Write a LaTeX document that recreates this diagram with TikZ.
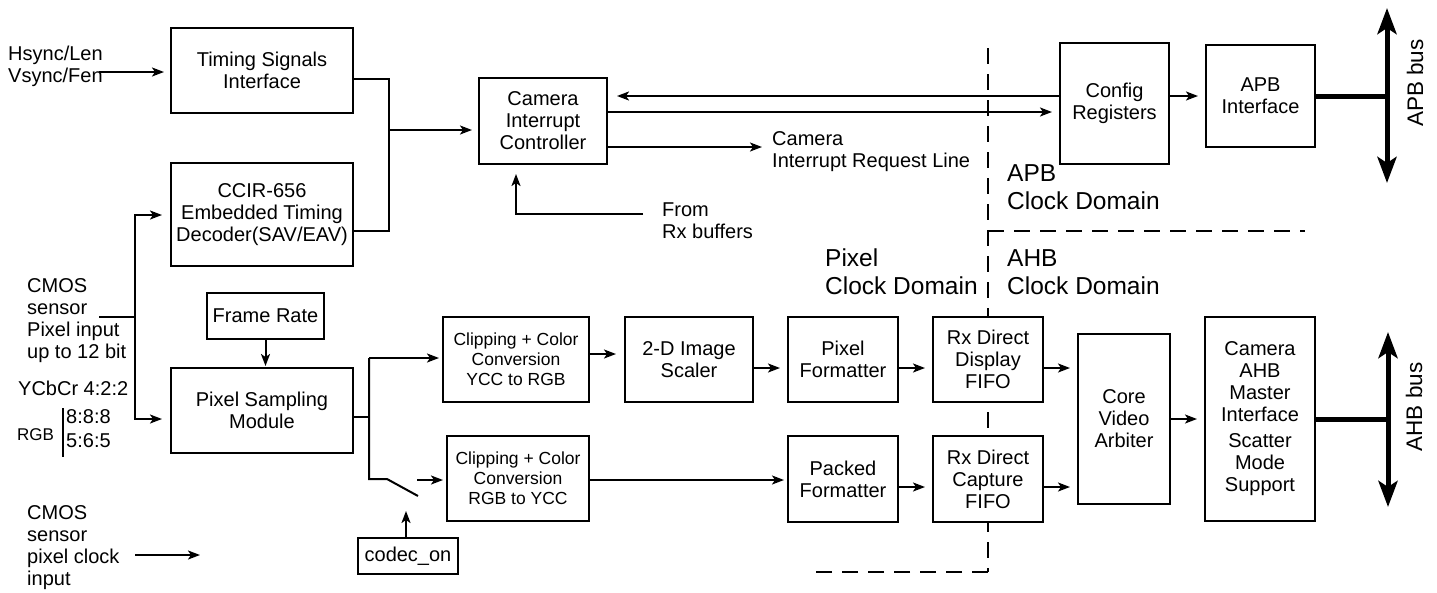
\documentclass[tikz,border=0pt]{standalone}
\usepackage{fontspec}
\setmainfont{Liberation Sans}
\usetikzlibrary{arrows.meta}
\newcommand\fsbox{\fontsize{20}{22}\selectfont}
\newcommand\fsclip{\fontsize{17.5}{20}\selectfont}
\newcommand\fsdom{\fontsize{24.5}{28}\selectfont}
\newcommand\fsbus{\fontsize{22.5}{26}\selectfont}
\newcommand\fsrgb{\fontsize{17}{20}\selectfont}
\begin{document}
\begin{tikzpicture}[x=1pt,y=-1pt,
 box/.style={draw,line width=2pt,fill=white,align=center,inner sep=0pt,font=\fsbox},
 lbl/.style={align=left,inner sep=0pt,anchor=west,font=\fsbox},
 conn/.style={line width=2pt},
 arr/.style={conn,-{Stealth[length=12pt,width=9pt,inset=3pt]}},
 thickbus/.style={line width=5pt},
 busarr/.style={line width=5pt,{Stealth[length=26pt,width=19pt,inset=6pt]}-{Stealth[length=26pt,width=19pt,inset=6pt]}},
 dom/.style={line width=2pt,dash pattern=on 16pt off 10pt}]
\useasboundingbox (0,0) rectangle (1437,592);

% clock domain borders
\coordinate (dvT) at (988,48);
\coordinate (dvB) at (988,572);
\coordinate (dhA) at (988,231);
\coordinate (dhB) at (1305,231);
\coordinate (dbL) at (807,572);
\draw[dom] (dvT) -- (dvB);
\draw[dom] (dhA) -- (dhB);
\draw[dom] (dvB) -- (dbL);

% boxes
\node[box,minimum width=182pt,minimum height=85pt] (tsi) at (262,70.5) {Timing Signals\\Interface};
\node[box,minimum width=182pt,minimum height=103pt] (ccir) at (262,214.5) {CCIR-656\\Embedded Timing\\Decoder(SAV/EAV)};
\node[box,minimum width=128pt,minimum height=86pt] (cic) at (543,121) {Camera\\Interrupt\\Controller};
\node[box,minimum width=109pt,minimum height=121pt] (cfg) at (1114.5,103.5) {Config\\Registers};
\node[box,minimum width=109pt,minimum height=102pt] (apbi) at (1260.5,96) {APB\\Interface};
\node[box,minimum width=117pt,minimum height=46pt] (fr) at (265.5,316) {Frame Rate};
\node[box,minimum width=182pt,minimum height=85pt] (psm) at (262,410.5) {Pixel Sampling\\Module};
\node[box,font=\fsclip,minimum width=146pt,minimum height=85pt] (cly) at (516,359.5) {Clipping + Color\\Conversion\\YCC to RGB};
\node[box,font=\fsclip,minimum width=142pt,minimum height=85pt] (clr) at (518,478.5) {Clipping + Color\\Conversion\\RGB to YCC};
\node[box,minimum width=128pt,minimum height=85pt] (scl) at (689,359.5) {2-D Image\\Scaler};
\node[box,minimum width=110pt,minimum height=85pt] (pxf) at (843,359.5) {Pixel\\Formatter};
\node[box,minimum width=110pt,minimum height=85pt] (dff) at (988,359.5) {Rx Direct\\Display\\FIFO};
\node[box,minimum width=110pt,minimum height=86pt] (pkf) at (843,479) {Packed\\Formatter};
\node[box,minimum width=110pt,minimum height=86pt] (cff) at (988,479) {Rx Direct\\Capture\\FIFO};
\node[box,minimum width=92pt,minimum height=170pt] (arb) at (1124,419) {Core\\Video\\Arbiter};
\node[box,minimum width=110pt,minimum height=204pt] (ahb) at (1260,419) {Camera\\AHB\\Master\\Interface\\[4pt]Scatter\\Mode\\Support};
\node[box,minimum width=100pt,minimum height=36pt] (codec) at (408,556) {codec\_on};

% labels
\node[lbl] (hsl) at (8,66.5) {Hsync/Len\\Vsync/Fen};
\node[lbl] (irqt) at (772,152) {Camera\\Interrupt Request Line};
\node[lbl] (rxt) at (662,220.5) {From\\Rx buffers};
\node[lbl,font=\fsdom] (pcd) at (825,272) {Pixel\\Clock Domain};
\node[lbl,font=\fsdom] (acd) at (1007,272) {AHB\\Clock Domain};
\node[lbl,font=\fsdom] (bcd) at (1007,187.5) {APB\\Clock Domain};
\node[lbl] (cmi) at (27,321) {CMOS\\sensor\\Pixel input\\up to 12 bit};
\node[lbl] (ycc) at (18,388) {YCbCr 4:2:2};
\node[lbl,font=\fsrgb] (rgb) at (17,435) {RGB};
\node[lbl] (fmt) at (66,429) {8:8:8\\[2pt]5:6:5};
\node[lbl] (pck) at (27,548) {CMOS\\sensor\\pixel clock\\input};
\node[rotate=90,font=\fsbus,inner sep=0pt] (apbl) at (1415,83) {APB bus};
\node[rotate=90,font=\fsbus,inner sep=0pt] (ahbl) at (1414,407) {AHB bus};
\draw[line width=1.5pt] (63,408) -- (63,457);

% upper connectors
\coordinate (hsin) at (99,72);
\draw[arr,shorten >=6pt] (hsin) -- (tsi.west |- hsin);
\coordinate (jA) at (389,79);
\coordinate (jB) at (389,231);
\coordinate (jC) at (389,130);
\draw[conn] (tsi.east |- jA) -- (jA) -- (jB) -- (ccir.east |- jB);
\draw[arr,shorten >=6pt] (jC) -- (cic.west |- jC);
\coordinate (yA) at (0,96);
\coordinate (yB) at (0,112);
\draw[arr,shorten >=9pt] (cfg.west |- yA) -- (cic.east |- yA);
\draw[arr,shorten >=7pt] (cic.east |- yB) -- (cfg.west |- yB);
\coordinate (irq) at (762,147);
\draw[arr] (cic.east |- irq) -- (irq);
\coordinate (rxA) at (643,214);
\coordinate (rxB) at (516,214);
\draw[arr,shorten >=9pt] (rxA) -- (rxB) -- (rxB |- cic.south);
\draw[arr,shorten >=7pt] (cfg.east |- yA) -- (apbi.west |- yA);
\coordinate (apbbus) at (1387,96);
\coordinate (apbt) at (1387,8);
\coordinate (apbb) at (1387,183);
\draw[thickbus] (apbi.east |- apbbus) -- (apbbus);
\draw[busarr] (apbb) -- (apbt);

% lower connectors
\draw[arr,shorten >=1pt] (fr.south) -- (fr.south |- psm.north);
\coordinate (ci) at (99,317);
\coordinate (vA) at (135,317);
\coordinate (vT) at (135,215);
\coordinate (vB) at (135,419);
\draw[conn] (ci) -- (vA);
\draw[arr,shorten >=8pt] (vA) -- (vT) -- (ccir.west |- vT);
\draw[arr,shorten >=8pt] (vA) -- (vB) -- (psm.west |- vB);
\coordinate (pcA) at (135,555);
\coordinate (pcB) at (200,555);
\draw[arr] (pcA) -- (pcB);

\coordinate (sA) at (369,417);
\coordinate (sT) at (369,358);
\coordinate (sB) at (369,479);
\coordinate (sw1) at (387,479);
\coordinate (sw2) at (418,496);
\coordinate (sr) at (417,480);
\draw[conn] (psm.east |- sA) -- (sA);
\draw[arr,shorten >=3pt] (sT) -- (cly.west |- sT);
\draw[conn] (sT) -- (sB) -- (sw1) -- (sw2);
\draw[arr,shorten >=3pt] (sr) -- (clr.west |- sr);
\coordinate (cod) at (406,511);
\draw[arr] (cod |- codec.north) -- (cod);

\coordinate (r1) at (0,354);
\coordinate (r2) at (0,368);
\coordinate (r3) at (0,480);
\coordinate (r4) at (0,487);
\coordinate (r5) at (0,419);
\draw[arr,shorten >=8pt] (cly.east |- r1) -- (scl.west |- r1);
\draw[arr,shorten >=7pt] (scl.east |- r2) -- (pxf.west |- r2);
\draw[arr,shorten >=7pt] (pxf.east |- r2) -- (dff.west |- r2);
\draw[arr,shorten >=7pt] (dff.east |- r2) -- (arb.west |- r2);
\draw[arr,shorten >=3pt] (clr.east |- r3) -- (pkf.west |- r3);
\draw[arr,shorten >=7pt] (pkf.east |- r4) -- (cff.west |- r4);
\draw[arr,shorten >=7pt] (cff.east |- r4) -- (arb.west |- r4);
\draw[arr,shorten >=7pt] (arb.east |- r5) -- (ahb.west |- r5);
\coordinate (ahbbus) at (1388,419);
\coordinate (ahbt) at (1388,332);
\coordinate (ahbb) at (1388,507);
\draw[thickbus] (ahb.east |- ahbbus) -- (ahbbus);
\draw[busarr] (ahbb) -- (ahbt);
\end{tikzpicture}
\end{document}
